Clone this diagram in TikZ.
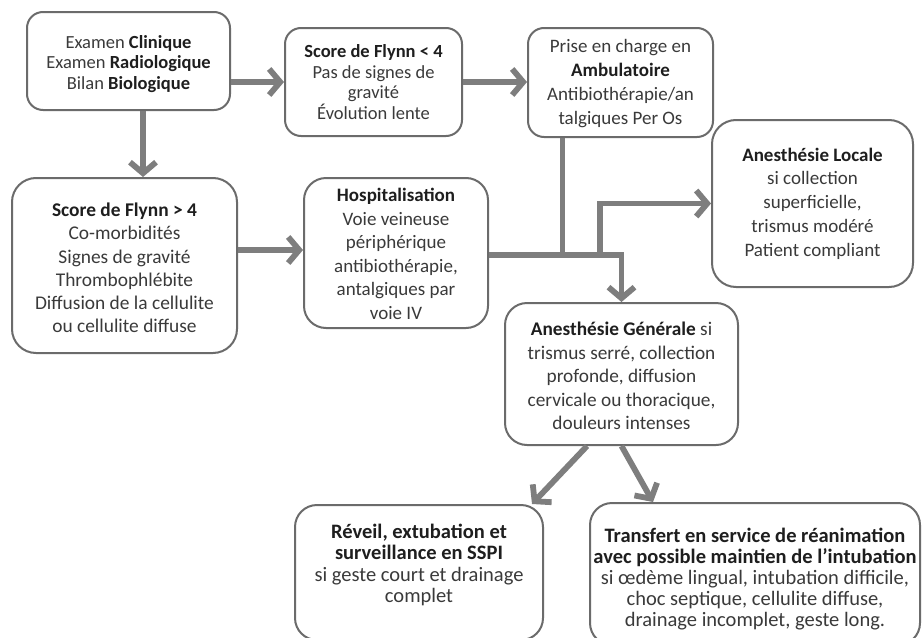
\documentclass[tikz,border=0pt]{standalone}
\usepackage{fontspec}
\setmainfont{Carlito}
\usetikzlibrary{arrows.meta,calc}
\definecolor{boxline}{HTML}{6B6B6B}
\definecolor{arrowgray}{HTML}{7E7E7E}
\definecolor{txt}{HTML}{3A3A3A}
\definecolor{txtb}{HTML}{1E1E1E}
\newcommand{\hb}[1]{\textbf{\color{txtb}#1}}
\tikzset{
  box/.style={draw=boxline, line width=2pt, rounded corners=#1, fill=white, inner sep=0pt},
  box/.default=18pt,
  txtlab/.style={align=center, text=txt, inner sep=0pt},
  ln/.style={draw=arrowgray, line width=5.8pt},
  arr/.style={ln, -{Straight Barb[length=11pt,width=26pt]}}
}
\begin{document}
\begin{tikzpicture}[x=1pt,y=-1pt]
\useasboundingbox (0,0) rectangle (923,637);

\node[box=16pt, minimum width=203pt, minimum height=98pt,
  label={[txtlab, font=\fontsize{18.5}{20.5}\selectfont, yshift=-3pt]center:{Examen \hb{Clinique}\\Examen \hb{Radiologique}\\Bilan \hb{Biologique}}}]
  (A) at (128.5,61) {};

\node[box=16pt, minimum width=177pt, minimum height=108pt,
  label={[txtlab, font=\fontsize{18.5}{20.7}\selectfont]center:{\hb{Score de Flynn < 4}\\Pas de signes de\\gravité\\Évolution lente}}]
  (B) at (373.5,82) {};

\node[box=16pt, minimum width=185pt, minimum height=109pt,
  label={[txtlab, font=\fontsize{19}{24}\selectfont, yshift=-1.5pt]center:{Prise en charge en\\\hb{Ambulatoire}\\Antibiothérapie/an\\talgiques Per Os}}]
  (C) at (620.5,82.5) {};

\node[box=24pt, minimum width=201pt, minimum height=167pt,
  label={[txtlab, font=\fontsize{19}{23.7}\selectfont]center:{\hb{Anesthésie Locale}\\si collection\\superficielle,\\trismus modéré\\Patient compliant}}]
  (D) at (812.5,203.5) {};

\node[box=24pt, minimum width=225pt, minimum height=175pt,
  label={[txtlab, font=\fontsize{19.4}{23.3}\selectfont, yshift=-2.5pt]center:{\hb{Score de Flynn > 4}\\Co-morbidités\\Signes de gravité\\Thrombophlébite\\Diffusion de la cellulite\\ou cellulite diffuse}}]
  (E) at (124.5,265.5) {};

\node[box=22pt, minimum width=184pt, minimum height=150pt,
  label={[txtlab, font=\fontsize{19}{23.5}\selectfont, yshift=-1pt]center:{\hb{Hospitalisation}\\Voie veineuse\\périphérique\\antibiothérapie,\\antalgiques par\\voie IV}}]
  (F) at (396,253) {};

\node[box=22pt, minimum width=233pt, minimum height=142pt,
  label={[txtlab, font=\fontsize{19.3}{23.6}\selectfont, yshift=-2pt]center:{\hb{Anesthésie Générale} si\\trismus serré, collection\\profonde, diffusion\\cervicale ou thoracique,\\douleurs intenses}}]
  (G) at (621.5,374) {};

\node[box=22pt, minimum width=248pt, minimum height=135pt,
  label={[txtlab, font=\fontsize{20.5}{21.3}\selectfont, yshift=7.5pt]center:{\hb{Réveil, extubation et}\\\hb{surveillance en SSPI}\\si geste court et drainage\\complet}}]
  (H) at (419,572.5) {};

\node[box=22pt, minimum width=330pt, minimum height=142pt,
  label={[txtlab, font=\fontsize{20.5}{21}\selectfont, yshift=-5pt]center:{\hb{Transfert en service de réanimation}\\\hb{avec possible maintien de l’intubation}\\si œdème lingual, intubation difficile,\\choc septique, cellulite diffuse,\\drainage incomplet, geste long.}}]
  (I) at (755,574) {};

% connectors
\draw[arr] (A.east |- B.west) -- (B.west);
\draw[arr] (B.east) -- (C.west |- B.east);
\coordinate (aS) at ([xshift=14.5pt]A.south);
\draw[arr] (aS) -- (aS |- E.north);
\coordinate (e2f) at ([yshift=3pt]F.west);
\draw[arr] (e2f -| E.east) -- (e2f);

\coordinate (fo) at ([yshift=-2pt]F.east);
\coordinate (cS) at ([xshift=-58pt]C.south);
\draw[ln] (cS) -- (cS |- fo);
\coordinate (bj) at ([xshift=-21.5pt]fo -| G.north);
\draw[arr] (bj) -- (bj |- D.west) -- (D.west);
\draw[arr] (fo) -- (fo -| G.north) -- (G.north);

\coordinate (gS1) at ([xshift=-34.5pt]G.south);
\coordinate (hT) at ([xshift=113pt]H.north);
\coordinate (iT) at ([xshift=-102pt]I.north);
\draw[arr] (gS1) -- (hT);
\draw[arr] (G.south) -- (iT);
\end{tikzpicture}
\end{document}
